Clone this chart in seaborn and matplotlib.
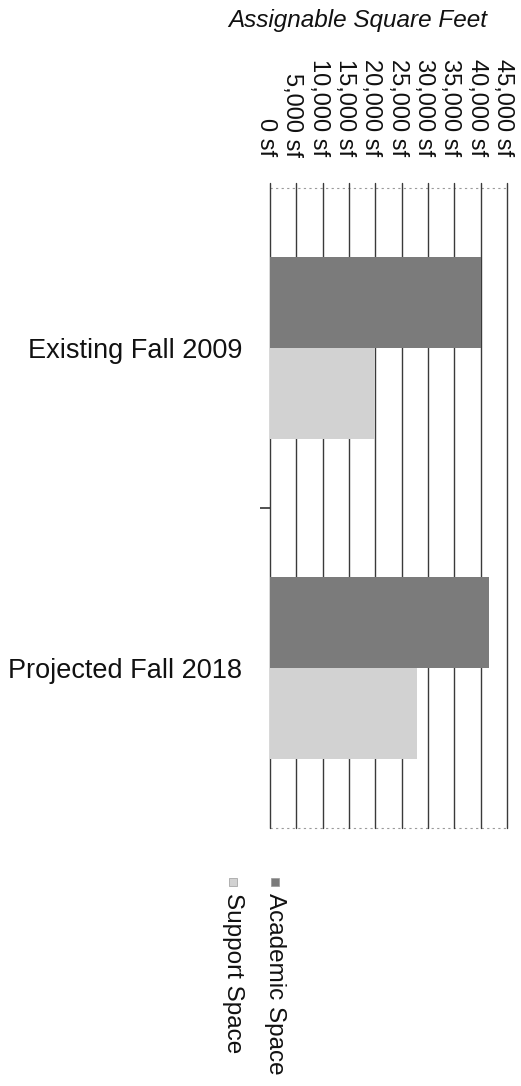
import matplotlib
matplotlib.use("Agg")
import matplotlib.pyplot as plt
import matplotlib.transforms as mtransforms
from matplotlib.patches import Rectangle
import pandas as pd
import seaborn as sns

# Assignable square footage by period and space type
categories = ["Existing Fall 2009", "Projected Fall 2018"]
series = ["Academic Space", "Support Space"]
academic_sf = [40000, 41500]
support_sf = [20000, 28000]
tick_values = [0, 5000, 10000, 15000, 20000, 25000, 30000, 35000, 40000, 45000]
tick_labels = ["0 sf", "5,000 sf", "10,000 sf", "15,000 sf", "20,000 sf",
               "25,000 sf", "30,000 sf", "35,000 sf", "40,000 sf", "45,000 sf"]
colors = {"Academic Space": "#7b7b7b", "Support Space": "#d2d2d2"}

df = pd.DataFrame({
    "Period": categories * 2,
    "Space": [series[0]] * len(categories) + [series[1]] * len(categories),
    "ASF": academic_sf + support_sf,
})

sns.set_theme(style="white")
plt.rcParams["font.family"] = ["Liberation Sans", "DejaVu Sans"]

W, H = 521, 1086
fig = plt.figure(figsize=(W / 100, H / 100), dpi=100)
fig.patch.set_facecolor("white")


def fx(px):
    return px / W


def fy(py):
    return 1 - py / H


ax = fig.add_axes([fx(270), fy(828), (507 - 270) / W, (828 - 183) / H])
sns.barplot(data=df, x="ASF", y="Period", hue="Space", order=categories,
            hue_order=series, palette=colors, orient="h", width=0.57,
            saturation=1, edgecolor="none", legend=False, ax=ax)

ax.set_xlim(0, 45000)
ax.set_ylim(1.5, -0.516)
ax.set_xlabel("")
ax.set_ylabel("")

# value axis along the top, labels reading downward
ax.set_xticks(tick_values)
ax.set_xticklabels(tick_labels, rotation=270, fontsize=17, color="#111111")
ax.xaxis.tick_top()
ax.tick_params(axis="x", length=0, pad=19, top=True, bottom=False,
               labeltop=True, labelbottom=False)
shift = mtransforms.ScaledTranslation(-4 / 100, 0, fig.dpi_scale_trans)
for lbl in ax.get_xticklabels():
    lbl.set_transform(lbl.get_transform() + shift)

# category labels on the left, plus a divider tick between groups
ax.tick_params(axis="y", which="major", length=0, pad=20, labelsize=19.5,
               labelcolor="#111111")
ax.set_yticks([0.5], minor=True)
ax.tick_params(axis="y", which="minor", length=7, width=1.2, color="#333333",
               direction="out", left=True)

ax.grid(axis="x", color="#3a3a3a", linewidth=1.0)
ax.grid(axis="y", visible=False)
for gl in ax.get_xgridlines():
    gl.set_clip_on(False)
ax.set_axisbelow(True)
for s in ax.spines.values():
    s.set_visible(False)

# faint dotted plot-area edges
for yv in (-0.5, 1.5):
    ax.axhline(yv, color="#9a9a9a", linewidth=0.8, linestyle=(0, (2, 3)),
               clip_on=False, zorder=0.5)

# title above the value labels
fig.text(fx(357.5), fy(20), "Assignable Square Feet", style="italic",
         fontsize=17.5, ha="center", va="center", color="#111111")

# legend entries, rotated to match the value labels
legend_x = {"Academic Space": 275, "Support Space": 233}
for name in series:
    x0 = legend_x[name]
    fig.add_artist(Rectangle((fx(x0 - 4), fy(886)), 8 / W, 8 / H,
                             transform=fig.transFigure,
                             facecolor=colors[name], edgecolor="#999999",
                             linewidth=0.5))
    fig.text(fx(x0), fy(893), name, rotation=270, fontsize=17.5,
             ha="center", va="top", color="#111111")

fig.savefig("out.png", dpi=100, facecolor="white")
